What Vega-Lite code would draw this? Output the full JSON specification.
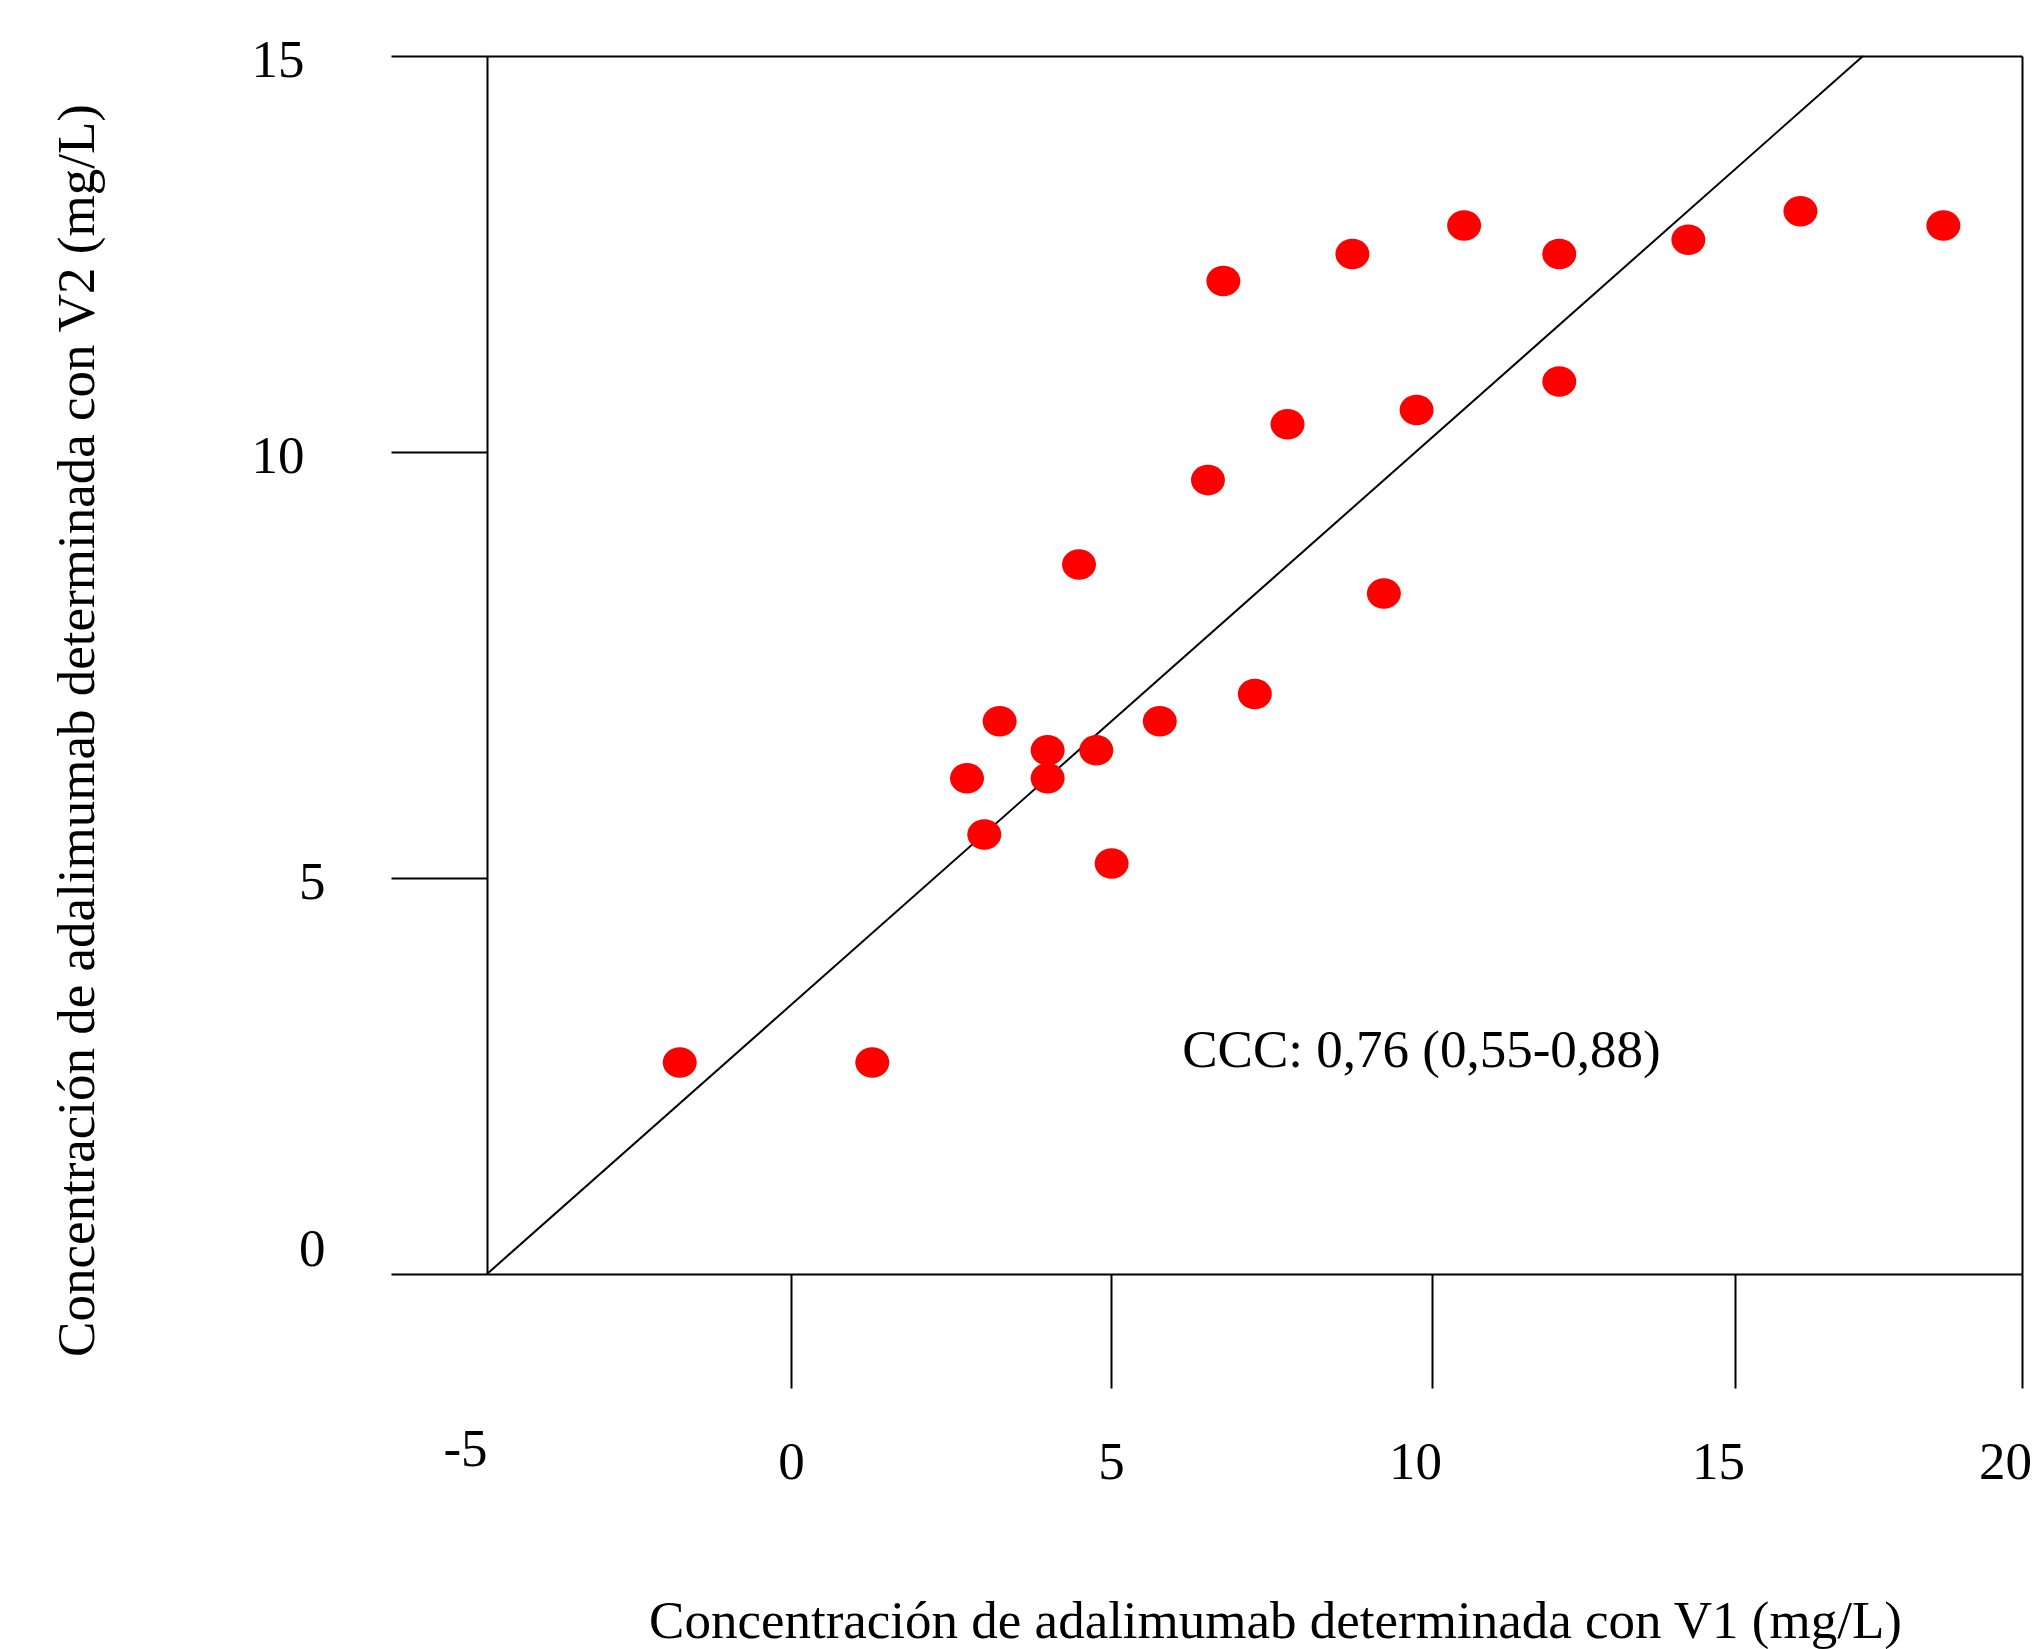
{
  "$schema": "https://vega.github.io/schema/vega-lite/v6.json",
  "width": 1631,
  "height": 1317,
  "autosize": {"type": "none"},
  "padding": {"left": 391, "top": 56, "right": 19, "bottom": 276},
  "background": "white",
  "config": {"view": {"stroke": null}, "font": "Liberation Serif"},
  "datasets": {
    "points": [
      {"v1": -1.83, "v2": 2.67},
      {"v1": 1.27, "v2": 2.67},
      {"v1": 2.75, "v2": 6.17},
      {"v1": 3.02, "v2": 5.51},
      {"v1": 3.26, "v2": 6.84},
      {"v1": 4.01, "v2": 6.5},
      {"v1": 4.01, "v2": 6.17},
      {"v1": 4.5, "v2": 8.68},
      {"v1": 4.77, "v2": 6.5},
      {"v1": 5.01, "v2": 5.17},
      {"v1": 5.76, "v2": 6.84},
      {"v1": 6.51, "v2": 9.67},
      {"v1": 6.75, "v2": 12.16},
      {"v1": 7.24, "v2": 7.16},
      {"v1": 7.75, "v2": 10.35},
      {"v1": 8.76, "v2": 12.5},
      {"v1": 9.25, "v2": 8.34},
      {"v1": 9.76, "v2": 10.53},
      {"v1": 10.53, "v2": 12.86},
      {"v1": 12.1, "v2": 12.5},
      {"v1": 12.1, "v2": 10.89},
      {"v1": 14.23, "v2": 12.68},
      {"v1": 16.14, "v2": 13.04},
      {"v1": 18.63, "v2": 12.86}
    ],
    "diag": [
      {"v1": -5, "v2": 0},
      {"v1": 17.23, "v2": 15}
    ],
    "note": [
      {"label": "CCC: 0,76 (0,55-0,88)"}
    ]
  },
  "layer": [
    {
      "data": {"name": "diag"},
      "mark": {"type": "line", "color": "black", "strokeWidth": 2},
      "encoding": {
        "x": {
          "field": "v1", "type": "quantitative",
          "scale": {"domain": [-5, 0, 5, 10, 15, 20], "range": [96, 400, 720, 1041, 1344, 1631], "nice": false, "zero": false},
          "axis": {"orient": "top", "domain": true, "domainColor": "black", "domainWidth": 2, "ticks": false, "labels": false, "grid": false, "title": null}
        },
        "y": {
          "field": "v2", "type": "quantitative",
          "scale": {"domain": [0, 5, 10, 15], "range": [1218, 822, 396, 0], "nice": false, "zero": false},
          "axis": {"orient": "right", "domain": true, "domainColor": "black", "domainWidth": 2, "ticks": false, "labels": false, "grid": false, "title": null}
        }
      }
    },
    {
      "data": {"name": "points"},
      "mark": {"type": "point", "shape": "M-1,0A1,0.9,0,1,1,1,0A1,0.9,0,1,1,-1,0Z", "filled": true, "size": 1156, "color": "#ff0000", "opacity": 1, "strokeWidth": 0},
      "encoding": {
        "x": {
          "field": "v1", "type": "quantitative",
          "scale": {"domain": [-5, 0, 5, 10, 15, 20], "range": [96, 400, 720, 1041, 1344, 1631], "nice": false, "zero": false},
          "axis": {
            "orient": "bottom", "offset": -99, "values": [-5, 0, 5, 10, 15, 20],
            "domain": true, "domainColor": "black", "domainWidth": 2,
            "ticks": true, "tickSize": 114, "tickColor": "black", "tickWidth": 2,
            "tickOpacity": {"condition": {"test": "datum.value == -5", "value": 0}, "value": 1},
            "grid": false,
            "labelExpr": "datum.value + ''",
            "labelFont": "Liberation Serif", "labelFontSize": 53, "labelColor": "black",
            "labelAlign": "center", "labelBaseline": "middle",
            "labelPadding": {"condition": {"test": "datum.value == -5", "value": 61}, "value": 74},
            "labelOffset": {"condition": [{"test": "datum.value == -5", "value": -22}, {"test": "datum.value >= 10", "value": -17}], "value": 0},
            "labelFlush": false, "labelOverlap": false, "labelBound": false,
            "title": "Concentración de adalimumab determinada con V1 (mg/L)",
            "titleFont": "Liberation Serif", "titleFontSize": 53, "titleFontWeight": "normal", "titleColor": "black",
            "titleX": 884, "titleY": 363, "titleAlign": "center", "titleBaseline": "alphabetic"
          }
        },
        "y": {
          "field": "v2", "type": "quantitative",
          "scale": {"domain": [0, 5, 10, 15], "range": [1218, 822, 396, 0], "nice": false, "zero": false},
          "axis": {
            "orient": "left", "offset": -96, "values": [0, 5, 10, 15],
            "domain": true, "domainColor": "black", "domainWidth": 2,
            "ticks": true, "tickSize": 96, "tickColor": "black", "tickWidth": 2,
            "grid": false,
            "labelExpr": "datum.value + ''",
            "labelFont": "Liberation Serif", "labelFontSize": 53, "labelColor": "black",
            "labelAlign": "right", "labelBaseline": "middle",
            "labelPadding": {"condition": {"test": "datum.value >= 10", "value": 87}, "value": 66},
            "labelOffset": {"condition": {"test": "datum.value == 0", "value": -25}, "value": 4},
            "labelFlush": false, "labelOverlap": false, "labelBound": false,
            "title": "Concentración de adalimumab determinada con V2 (mg/L)",
            "titleFont": "Liberation Serif", "titleFontSize": 53, "titleFontWeight": "normal", "titleColor": "black",
            "titleX": -394, "titleY": 674, "titleAngle": -90, "titleAlign": "center", "titleBaseline": "alphabetic"
          }
        }
      }
    },
    {
      "data": {"name": "note"},
      "mark": {"type": "text", "font": "Liberation Serif", "fontSize": 53, "align": "left", "baseline": "alphabetic", "color": "black"},
      "encoding": {
        "text": {"field": "label", "type": "nominal"},
        "x": {"datum": 6.11, "type": "quantitative", "scale": {"domain": [-5, 0, 5, 10, 15, 20], "range": [96, 400, 720, 1041, 1344, 1631], "nice": false, "zero": false}, "axis": null},
        "y": {"datum": 2.61, "type": "quantitative", "scale": {"domain": [0, 5, 10, 15], "range": [1218, 822, 396, 0], "nice": false, "zero": false}, "axis": null}
      }
    }
  ],
  "resolve": {"axis": {"x": "independent", "y": "independent"}}
}
